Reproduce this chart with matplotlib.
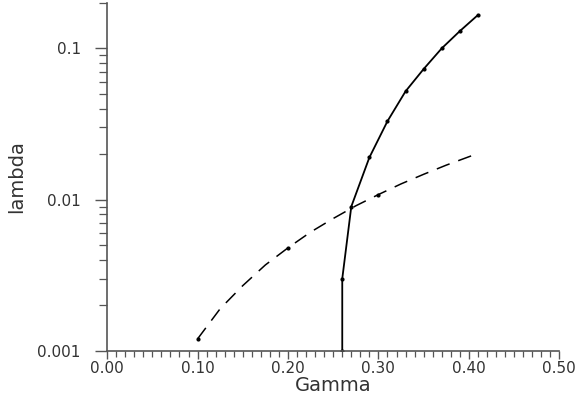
import matplotlib
matplotlib.use("Agg")
import matplotlib.pyplot as plt
from matplotlib.ticker import FixedLocator, FuncFormatter, MultipleLocator

# solid branch
gamma_solid = [0.26, 0.26, 0.27, 0.29, 0.31, 0.33, 0.35, 0.37, 0.39, 0.41]
lambda_solid = [0.001, 0.003, 0.009, 0.019, 0.033, 0.052, 0.073, 0.100, 0.130, 0.166]

# dashed branch
gamma_dash = [0.10, 0.125, 0.15, 0.175, 0.20, 0.225, 0.25, 0.275, 0.30, 0.325, 0.35, 0.375, 0.41]
lambda_dash = [0.0012, 0.0019, 0.0027, 0.0037, 0.0048, 0.0061, 0.0075, 0.0091, 0.0108,
               0.0127, 0.0147, 0.0169, 0.0202]
gamma_dash_pts = [0.10, 0.20, 0.30]
lambda_dash_pts = [0.0012, 0.0048, 0.0108]

y_ticks = [0.001, 0.01, 0.1]
y_labels = ["0.001", "0.01", "0.1"]

axis_col = "#555555"
text_col = "#333333"

fig = plt.figure(figsize=(5.76, 4.01), dpi=100)
ax = fig.add_axes([0.186, 0.125, 0.785, 0.868])

ax.plot(gamma_solid, lambda_solid, color="black", lw=1.3, marker="o", ms=2.0)
ax.plot(gamma_dash, lambda_dash, color="black", lw=1.1, dashes=(9, 6))
ax.plot(gamma_dash_pts, lambda_dash_pts, ls="none", color="black", marker="o", ms=2.0)

ax.set_yscale("log")
ax.set_xlim(0, 0.5)
ax.set_ylim(0.001, 0.2)

ax.xaxis.set_major_locator(MultipleLocator(0.1))
ax.xaxis.set_minor_locator(MultipleLocator(0.01))
ax.xaxis.set_major_formatter(FuncFormatter(lambda v, p: f"{v:.2f}"))
ax.yaxis.set_major_locator(FixedLocator(y_ticks))
ax.yaxis.set_major_formatter(FuncFormatter(lambda v, p: y_labels[y_ticks.index(min(y_ticks, key=lambda t: abs(t - v)))]))

for s in ["top", "right"]:
    ax.spines[s].set_visible(False)
for s in ["left", "bottom"]:
    ax.spines[s].set_color(axis_col)
    ax.spines[s].set_linewidth(1.2)

ax.tick_params(axis="both", which="major", colors=axis_col, labelcolor=text_col,
               labelsize=11, width=1.0)
ax.tick_params(axis="x", which="major", length=6, pad=1)
ax.tick_params(axis="x", which="minor", length=4, width=0.9, colors=axis_col)
ax.tick_params(axis="y", which="major", length=9, pad=10)
ax.tick_params(axis="y", which="minor", length=6, width=0.9, colors=axis_col, labelleft=False)

ax.set_xlabel("Gamma", fontsize=14, color=text_col, labelpad=0)
ax.set_ylabel("lambda", fontsize=14, color=text_col, labelpad=8)

fig.savefig("out.png", dpi=100)
